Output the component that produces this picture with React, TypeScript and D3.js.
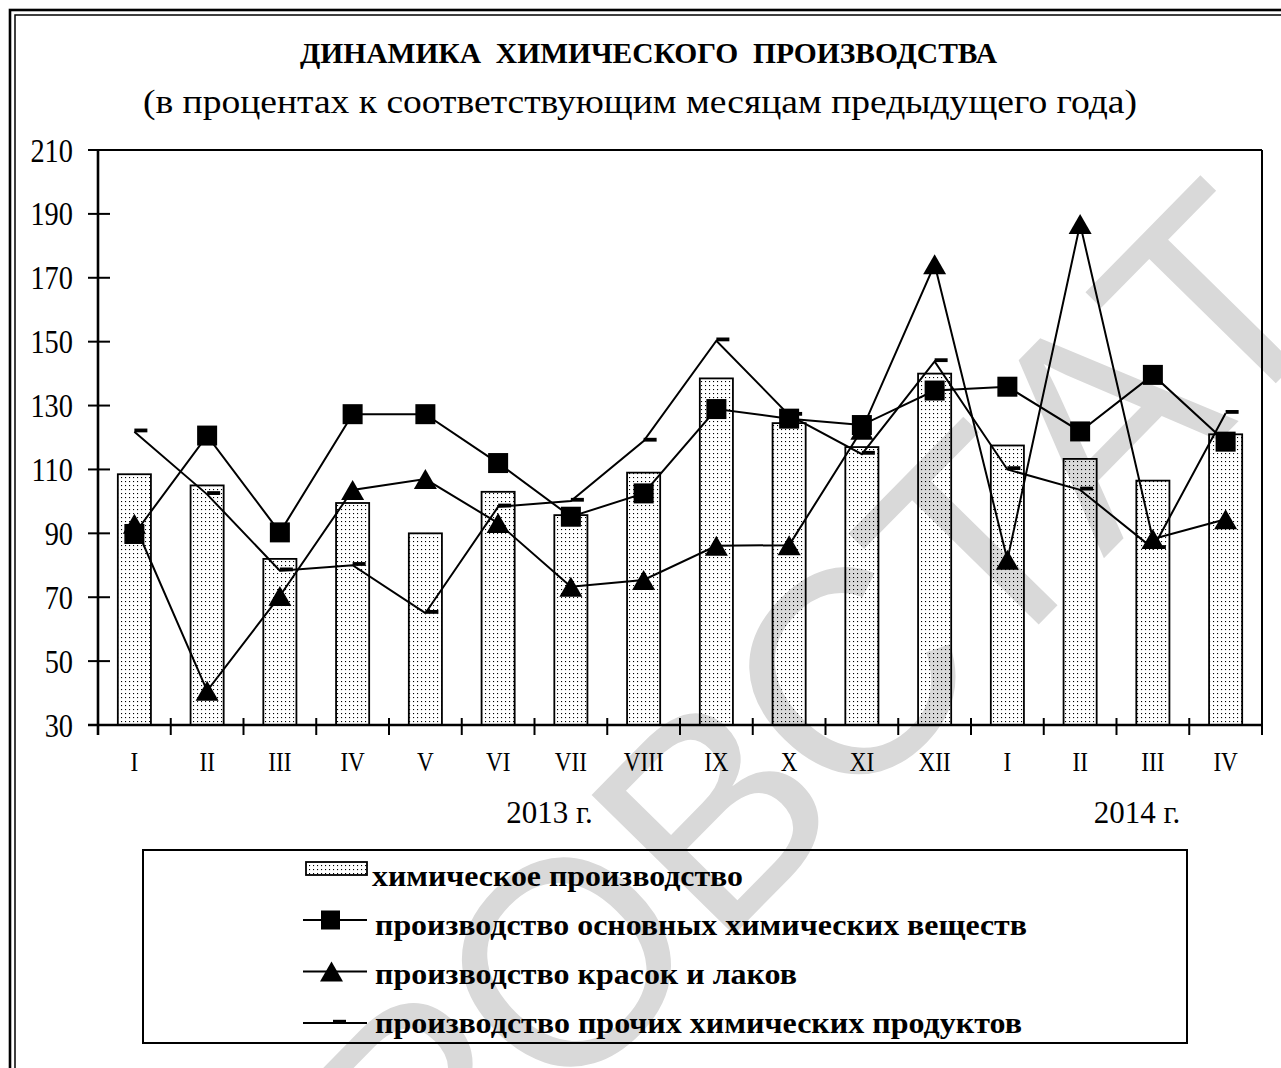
import * as d3 from "d3"

const months = ["I", "II", "III", "IV", "V", "VI", "VII", "VIII", "IX", "X", "XI", "XII", "I", "II", "III", "IV"]

// химическое производство (столбцы)
const chemical = [108.5, 105, 82, 99.5, 90, 103, 95.7, 109, 138.5, 124.5, 117, 140, 117.5, 113.3, 106.5, 121]
// производство основных химических веществ (квадраты)
const basicChem = [89.8, 120.6, 90.3, 127.3, 127.3, 112, 95.2, 102.5, 128.9, 125.9, 123.9, 134.7, 135.9, 121.9, 139.6, 118.7]
// производство красок и лаков (треугольники)
const paints = [93, 40.7, 70.4, 103.6, 107, 93.2, 73.3, 75.4, 86.1, 86.3, 122.4, 174.2, 81.7, 186.8, 88.2, 94.4]
// производство прочих химических продуктов (черточки)
const otherChem = [121.8, 102.2, 78.3, 80, 65, 98.3, 100.1, 118.9, 150.3, 127, 114.8, 143.8, 110, 103.6, 85.3, 127.6]

const yTicks = [30, 50, 70, 90, 110, 130, 150, 170, 190, 210]
const yearLabels = ["2013 г.", "2014 г."]
const legendLabels = [
  "химическое производство",
  "производство основных химических веществ",
  "производство красок и лаков",
  "производство прочих химических продуктов",
]

const serif = '"Liberation Serif", "Times New Roman", serif'

const Square = ({ cx, cy, s = 20 }: { cx: number; cy: number; s?: number }) => (
  <rect x={cx - s / 2} y={cy - s / 2} width={s} height={s} fill="#000" />
)
const Triangle = ({ cx, cy }: { cx: number; cy: number }) => (
  <path d={`M${cx},${cy - 10}L${cx + 11.5},${cy + 10}L${cx - 11.5},${cy + 10}Z`} fill="#000" />
)
const Dash = ({ cx, cy }: { cx: number; cy: number }) => (
  <rect x={cx} y={cy - 3.2} width={13} height={3.8} fill="#000" />
)

export default function App() {
  const W = 1281
  const H = 1068
  const left = 98
  const right = 1262
  const top = 150
  const bottom = 725

  const x = d3
    .scaleBand<number>()
    .domain(d3.range(months.length))
    .range([left, right])
    .paddingInner(0.545)
    .paddingOuter(0.2725)
  const y = d3.scaleLinear().domain([30, 210]).range([bottom, top])
  const cx = (i: number) => (x(i) as number) + x.bandwidth() / 2
  const step = x.step()

  const line = d3
    .line<number>()
    .x((_, i) => cx(i))
    .y((d) => y(d))

  const boundaries = d3.range(months.length + 1).map((k) => left + k * step)

  const legendRows = [869, 920, 971.5, 1023]
  const legendText = [886, 935, 984, 1033]
  const legendWidths = [371, 652, 422, 647]
  const legendX = [372, 375, 375, 375]

  return (
    <div style={{ position: "absolute", left: 0, top: 0 }}>
      <svg width={W} height={H} style={{ display: "block" }}>
        <defs>
          <pattern id="dots" width={4} height={4} patternUnits="userSpaceOnUse">
            <rect x={1} y={1} width={1.1} height={1.1} fill="#000" />
          </pattern>
        </defs>
        <rect width={W} height={H} fill="#fff" />

        {/* водяной знак */}
        <text
          x={428}
          y={1246}
          transform="rotate(-45.5, 428, 1246)"
          fontFamily='"Liberation Sans", Arial, sans-serif'
          fontSize={290}
          fill="#d9d9d9"
        >
          РОВСТАТ
        </text>

        {/* рамка */}
        <rect x={10} y={10} width={1400} height={1200} fill="none" stroke="#000" strokeWidth={2.6} />
        <rect x={15} y={15} width={1400} height={1200} fill="none" stroke="#000" strokeWidth={1.5} />

        <text
          x={300}
          y={63}
          fontFamily={serif}
          fontSize={30}
          fontWeight="bold"
          textLength={697}
          lengthAdjust="spacingAndGlyphs"
          style={{ whiteSpace: "pre" }}
        >
          {"ДИНАМИКА  ХИМИЧЕСКОГО  ПРОИЗВОДСТВА"}
        </text>
        <text x={143} y={113} fontFamily={serif} fontSize={34} textLength={994} lengthAdjust="spacingAndGlyphs">
          (в процентах к соответствующим месяцам предыдущего года)
        </text>

        {/* столбцы */}
        {chemical.map((v, i) => (
          <rect
            key={"b" + i}
            x={x(i)}
            y={y(v)}
            width={x.bandwidth()}
            height={bottom - y(v)}
            fill="url(#dots)"
            stroke="#000"
            strokeWidth={1.8}
          />
        ))}

        {/* рамка области построения и оси */}
        <line x1={left} x2={right} y1={top} y2={top} stroke="#000" strokeWidth={2} />
        <line x1={right} x2={right} y1={top} y2={bottom} stroke="#000" strokeWidth={2} />
        <line x1={left} x2={left} y1={top} y2={735} stroke="#000" strokeWidth={2.6} />
        <line x1={88} x2={right} y1={bottom} y2={bottom} stroke="#000" strokeWidth={2.6} />
        {yTicks.map((t) => (
          <g key={"yt" + t}>
            <line x1={88} x2={110} y1={y(t)} y2={y(t)} stroke="#000" strokeWidth={2} />
            <text
              transform={`translate(73,${y(t) + 11.5}) scale(0.86,1)`}
              textAnchor="end"
              fontFamily={serif}
              fontSize={33}
            >
              {t}
            </text>
          </g>
        ))}
        {boundaries.slice(1).map((bx, k) => (
          <line key={"xt" + k} x1={bx} x2={bx} y1={718} y2={735} stroke="#000" strokeWidth={2} />
        ))}
        {months.map((m, i) => (
          <text
            key={"xl" + i}
            transform={`translate(${cx(i)},771) scale(0.86,1)`}
            textAnchor="middle"
            fontFamily={serif}
            fontSize={27}
          >
            {m}
          </text>
        ))}
        <text x={549.5} y={823} textAnchor="middle" fontFamily={serif} fontSize={31}>
          {yearLabels[0]}
        </text>
        <text x={1137} y={823} textAnchor="middle" fontFamily={serif} fontSize={31}>
          {yearLabels[1]}
        </text>

        {/* линии */}
        <path d={line(paints) ?? ""} fill="none" stroke="#000" strokeWidth={2} />
        {paints.map((v, i) => (
          <Triangle key={"t" + i} cx={cx(i)} cy={y(v)} />
        ))}
        <path d={line(otherChem) ?? ""} fill="none" stroke="#000" strokeWidth={2} />
        {otherChem.map((v, i) => (
          <Dash key={"d" + i} cx={cx(i)} cy={y(v)} />
        ))}
        <path d={line(basicChem) ?? ""} fill="none" stroke="#000" strokeWidth={2} />
        {basicChem.map((v, i) => (
          <Square key={"s" + i} cx={cx(i)} cy={y(v)} />
        ))}

        {/* легенда */}
        <rect x={143} y={850} width={1044} height={193} fill="none" stroke="#000" strokeWidth={2} />
        <rect x={306} y={862} width={61} height={13} fill="url(#dots)" stroke="#000" strokeWidth={1.8} />
        {[1, 2, 3].map((r) => (
          <line key={"ll" + r} x1={303} x2={367} y1={legendRows[r]} y2={legendRows[r]} stroke="#000" strokeWidth={2} />
        ))}
        <Square cx={330.5} cy={legendRows[1]} s={19} />
        <Triangle cx={331.5} cy={legendRows[2]} />
        <Dash cx={333} cy={legendRows[3]} />
        {legendLabels.map((t, i) => (
          <text
            key={"lt" + i}
            x={legendX[i]}
            y={legendText[i]}
            fontFamily={serif}
            fontSize={29}
            fontWeight="bold"
            textLength={legendWidths[i]}
            lengthAdjust="spacingAndGlyphs"
          >
            {t}
          </text>
        ))}
      </svg>
    </div>
  )
}
